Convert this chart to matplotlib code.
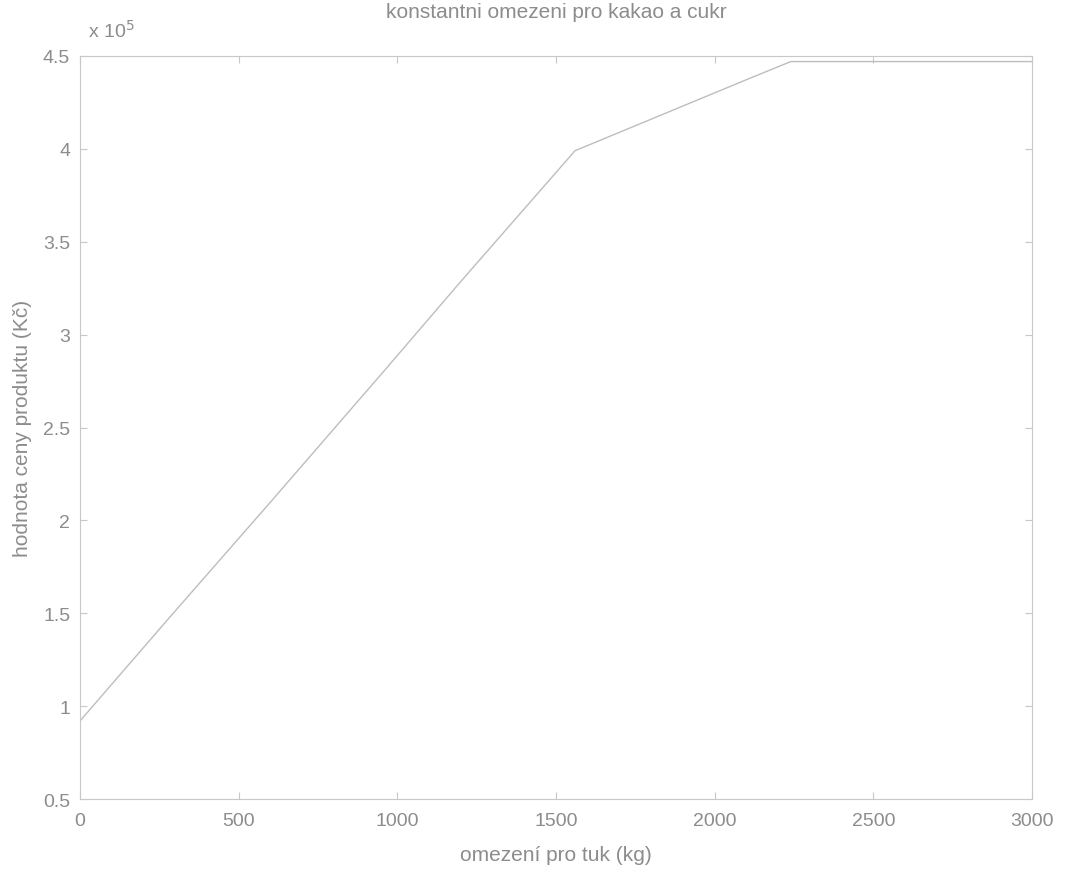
import numpy as np
import matplotlib
matplotlib.use("Agg")
import matplotlib.pyplot as plt
from matplotlib.ticker import FuncFormatter

plt.rcParams['font.family'] = ['Liberation Sans', 'DejaVu Sans']

# omezeni pro tuk (kg) a hodnota (Kc)
tuk = [0, 280, 596, 961, 1197, 1560, 2111, 2240, 3000]
hodnota = [92000, 147300, 209000, 281000, 328000, 399000, 438000, 447000, 447000]

xticks = [0, 500, 1000, 1500, 2000, 2500, 3000]
yticks = [50000, 100000, 150000, 200000, 250000, 300000, 350000, 400000, 450000]

txt = '#8c8c8c'
edge = '#c8c8c8'

fig = plt.figure(figsize=(10.69, 8.78), dpi=100)
ax = fig.add_axes([0.0748, 0.0888, 0.8906, 0.8463])

ax.plot(tuk, hodnota, color='#bdbdbd', lw=1.0)

ax.set_xlim(0, 3000)
ax.set_ylim(50000, 450000)
ax.set_xticks(xticks)
ax.set_yticks(yticks)
ax.yaxis.set_major_formatter(FuncFormatter(lambda v, p: '%g' % (v / 1e5)))
ax.tick_params(direction='in', length=5, colors=edge, labelcolor=txt,
               labelsize=14, top=True, right=True)
ax.tick_params(axis='x', pad=9)
ax.tick_params(axis='y', pad=7)
for s in ax.spines.values():
    s.set_color(edge)
    s.set_linewidth(0.8)

ax.set_title('konstantni omezeni pro kakao a cukr', color=txt, fontsize=15, pad=28)
ax.set_xlabel('omezení pro tuk (kg)', color=txt, fontsize=15, labelpad=12)
ax.set_ylabel('hodnota ceny produktu (Kč)', color=txt, fontsize=15, labelpad=8)
ax.text(0.008, 1.02, 'x 10$^5$', transform=ax.transAxes, color=txt, fontsize=14,
        ha='left', va='bottom')

fig.savefig('out.png', dpi=100)
